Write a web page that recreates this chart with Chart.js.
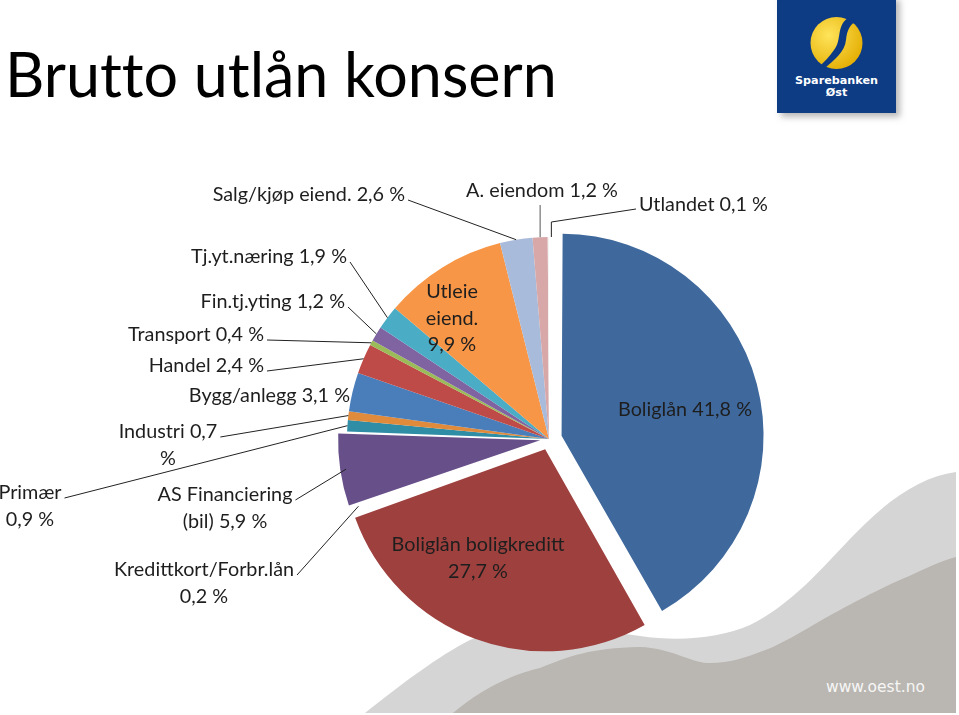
<!DOCTYPE html>
<html>
<head>
<meta charset="utf-8">
<script src="https://cdn.jsdelivr.net/npm/chart.js@4"></script>
<style>
  html, body { margin: 0; padding: 0; background: #fff; }
  #wrap { position: relative; width: 959px; height: 715px; overflow: hidden; }
  #bg, #myChart { position: absolute; left: 0; top: 0; }
  #bg text { font-variant-ligatures: none; }
</style>
</head>
<body>
<div id="wrap">
  <svg id="bg" width="959" height="715" xmlns="http://www.w3.org/2000/svg">
    <defs>
      <filter id="shadow" x="-10%" y="-10%" width="130%" height="130%">
        <feDropShadow dx="4" dy="4" stdDeviation="3" flood-color="#888" flood-opacity="0.6"/>
      </filter>
      <radialGradient id="sun" cx="0.35" cy="0.35" r="0.75">
        <stop offset="0" stop-color="#ffe45a"/>
        <stop offset="1" stop-color="#e3ac00"/>
      </radialGradient>
    </defs>
    <!-- grey swooshes -->
    <path d="M365 713 C400 685 440 655 470 640 C520 618 590 630 640 636 C680 642 720 638 750 625 C800 600 832 555 866 523 C896 494 926 476 956 472 L956 713 Z" fill="#d5d5d5"/>
    <path d="M453 713 C480 690 510 675 540 668 C570 656 590 648 640 647 C670 648 690 662 707 663 C730 664 750 656 773 647 C800 634 820 620 840 610 C870 594 890 584 907 577 C925 569 940 561 956 557 L956 713 Z" fill="#bab6b1"/>
    <text x="826" y="692" font-family="DejaVu Sans" font-size="15.5" fill="#f6f6f6">www.oest.no</text>
    <!-- title -->
    <text x="5" y="97" font-family="Lato" font-size="61" fill="#000">Brutto utlån konsern</text>
    <!-- logo -->
    <rect x="777" y="-4" width="119" height="117" fill="#0d3a84" filter="url(#shadow)"/>
    <circle cx="836.5" cy="43" r="26" fill="url(#sun)"/>
    <path d="M848 18 C836 26 842 40 834 50 C829 57 824 62 820 66 L825 68 C834 60 845 52 846 40 C847 30 850 24 857 21 Z" fill="#0d3a84"/>
    <text x="836.5" y="84" text-anchor="middle" font-family="DejaVu Sans" font-weight="bold" font-size="11.2" fill="#fff">Sparebanken</text>
    <text x="836.5" y="96" text-anchor="middle" font-family="DejaVu Sans" font-weight="bold" font-size="11.2" fill="#fff">Øst</text>
  </svg>
  <canvas id="myChart" width="959" height="715"></canvas>
</div>
<script>
const categories = [
  "Boliglån",
  "Boliglån boligkreditt",
  "Kredittkort/Forbr.lån",
  "AS Financiering (bil)",
  "Primær",
  "Industri",
  "Bygg/anlegg",
  "Handel",
  "Transport",
  "Fin.tj.yting",
  "Tj.yt.næring",
  "Utleie eiend.",
  "Salg/kjøp eiend.",
  "A. eiendom",
  "Utlandet",
];
const shares = [41.8, 27.7, 0.2, 5.9, 0.9, 0.7, 3.1, 2.4, 0.4, 1.2, 1.9, 9.9, 2.6, 1.2, 0.1];

const sliceColors = [
  "#3f699d", "#9e403e", "#84a24e", "#674f89", "#2f8da6",
  "#e08a3c", "#4a7ebb", "#be4b48", "#9bbb59", "#8064a2",
  "#4bacc6", "#f79646", "#a9bbda", "#d8a7a7", "#f4f4f4",
];
// chart.js offset units (translation = offset / 4)
const explode = [52, 44, 36, 36, 0, 0, 0, 0, 0, 0, 0, 0, 0, 0, 0];
const pieRadius = 202;

// label placement: x/y = anchor of first line (middle), breaks = word index for line breaks
const labelLayout = [
  { x: 685, y: 410, align: "center", breaks: [] },
  { x: 478, y: 545, align: "center", breaks: [2] },
  { x: 204, y: 570, align: "center", breaks: [1], leader: "line" },
  { x: 225, y: 495, align: "center", breaks: [2], leader: "line" },
  { x: 30, y: 493, align: "center", breaks: [1], leader: "line" },
  { x: 168, y: 432, align: "center", breaks: [2], leader: "line" },
  { x: 350, y: 396, align: "right", breaks: [] },
  { x: 264, y: 366, align: "right", breaks: [], leader: "line" },
  { x: 264, y: 335, align: "right", breaks: [], leader: "line" },
  { x: 345, y: 302, align: "right", breaks: [], leader: "line" },
  { x: 347, y: 257, align: "right", breaks: [], leader: "line" },
  { x: 452, y: 292, align: "center", breaks: [1, 2] },
  { x: 405, y: 195, align: "right", breaks: [], leader: "line" },
  { x: 542, y: 191, align: "center", breaks: [], leader: "below" },
  { x: 639, y: 205, align: "left", breaks: [], leader: "elbow" },
];

function pct(v) {
  return v.toFixed(1).replace(".", ",") + " %";
}

function labelLines(i) {
  const words = (categories[i] + " " + pct(shares[i])).split(" ");
  const lines = [];
  let from = 0;
  for (const b of labelLayout[i].breaks) {
    lines.push(words.slice(from, b).join(" "));
    from = b;
  }
  lines.push(words.slice(from).join(" "));
  return lines;
}

// keep exploded slices the same radius as the rest
const radiusFix = {
  id: "radiusFix",
  beforeDatasetsDraw(chart) {
    chart.getDatasetMeta(0).data.forEach((arc) => {
      const off = (arc.options.offset || 0) / 4;
      const fix = 1 - Math.sin(Math.min(Math.PI, arc.circumference));
      arc.outerRadius = pieRadius - off * fix;
    });
  },
};

const sliceLabels = {
  id: "sliceLabels",
  afterDatasetsDraw(chart) {
    const ctx = chart.ctx;
    const arcs = chart.getDatasetMeta(0).data;
    ctx.save();
    ctx.font = "19.8px Lato";
    ctx.textBaseline = "middle";
    arcs.forEach((arc, i) => {
      const lay = labelLayout[i];
      const lines = labelLines(i);
      const lh = 26.5;

      ctx.fillStyle = "#1e1e1e";
      ctx.textAlign = lay.align;
      lines.forEach((t, k) => ctx.fillText(t, lay.x, lay.y + k * lh));

      if (!lay.leader) return;
      const mid = (arc.startAngle + arc.endAngle) / 2;
      const r = arc.outerRadius + (arc.options.offset || 0) / 4;
      const px = arc.x + Math.cos(mid) * r;
      const py = arc.y + Math.sin(mid) * r;
      const w1 = ctx.measureText(lines[0]).width;

      ctx.strokeStyle = "#222";
      ctx.lineWidth = 1;
      ctx.beginPath();
      if (lay.leader === "below") {
        ctx.strokeStyle = "#555";
        ctx.moveTo(px, lay.y + 14);
        ctx.lineTo(px, py);
      } else if (lay.leader === "elbow") {
        ctx.moveTo(lay.x - 3, lay.y + 4);
        ctx.lineTo(px + 3, py - 15);
        ctx.lineTo(px + 3, py);
      } else {
        let sx = lay.x + 3;
        if (lay.align === "center") sx = lay.x + w1 / 2 + 3;
        ctx.moveTo(sx, lay.y + 5);
        ctx.lineTo(px, py);
      }
      ctx.stroke();
    });
    ctx.restore();
  },
};

const ctx = document.getElementById("myChart").getContext("2d");

new Chart(ctx, {
  type: "pie",
  data: {
    labels: categories,
    datasets: [
      {
        data: shares,
        backgroundColor: sliceColors,
        borderWidth: 0,
        offset: explode,
      },
    ],
  },
  options: {
    responsive: false,
    animation: false,
    events: [],
    radius: pieRadius,
    layout: { padding: { left: 139, top: 163, right: 0, bottom: 0 } },
    plugins: {
      legend: { display: false },
      tooltip: { enabled: false },
    },
  },
  plugins: [radiusFix, sliceLabels],
});
</script>
</body>
</html>
